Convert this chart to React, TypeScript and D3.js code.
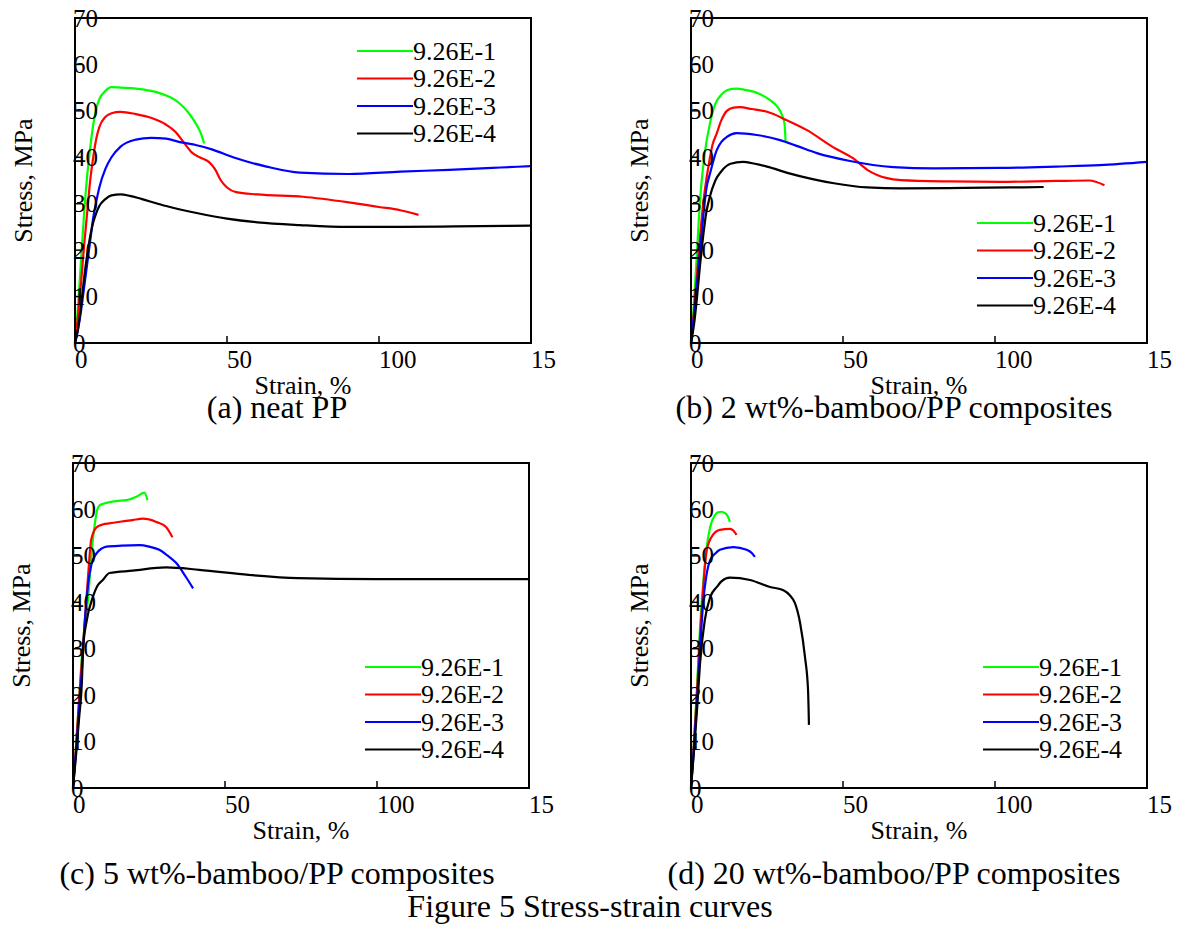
import React from "react";
import * as d3 from "d3";

// ---------- data ----------
const seriesNames = ["9.26E-1", "9.26E-2", "9.26E-3", "9.26E-4"];
const seriesColors = ["#00ff00", "#ff0000", "#0000ff", "#000000"];
const xTicks = [0, 50, 100, 150];
const xTickLabels = ["0", "50", "100", "15"];
const yTicks = [0, 10, 20, 30, 40, 50, 60, 70];
const captions = [
  "(a)  neat PP",
  "(b) 2 wt%-bamboo/PP composites",
  "(c) 5 wt%-bamboo/PP composites",
  "(d) 20 wt%-bamboo/PP composites",
];
const figureTitle = "Figure 5 Stress-strain curves";
const xTitle = "Strain, %";
const yTitle = "Stress, MPa";

// (a) neat PP  [strain %, stress MPa]
const neat1 = [[0,0],[1,8],[2,18],[3,28],[4,36],[5,42],[6,47],[7,50.5],[8,52.5],[10,54.3],[12,55.1],[15,55],[20,54.8],[25,54.3],[30,53.3],[33,52.3],[36,50.6],[38,49],[40,47],[41.5,45],[42.5,43]];
const neat2 = [[0,0],[1,6],[2,13],[3,21],[4,28],[5,35],[6,40],[7,44],[8,46.5],[10,48.7],[12,49.5],[15,49.8],[20,49.3],[25,48.5],[30,47],[33,45.5],[36,43],[38.5,41],[41,40],[44,39],[46,37.5],[48,35],[50,33.5],[53,32.5],[60,32],[75,31.5],[90,30.3],[100,29.3],[107,28.6],[113,27.6]];
const neat3 = [[0,0],[1,3],[2,7],[3,12],[4,17],[5,22],[6,27],[7,30.5],[8,33.5],[10,37.5],[12,40],[15,42.3],[20,43.8],[25,44.2],[30,44],[35,43.2],[40,42.6],[45,41.7],[52,40],[63,38],[74,36.7],[90,36.4],[107,36.9],[123,37.3],[140,37.8],[150,38.1]];
const neat4 = [[0,0],[1,3],[2,8],[3,14],[4,19],[5,23],[6,26],[7,28],[8,29.5],[10,31],[12,31.8],[15,32],[18,31.7],[22,31],[30,29.5],[40,28],[50,26.8],[60,26],[74,25.4],[90,25],[107,25],[125,25.1],[150,25.3]];

// (b) 2 wt%
const wt2_1 = [[0,0],[1,9],[2,20],[3,31],[4,38],[5,43],[6,46.5],[7,49.5],[8,51.5],[10,53.5],[12,54.5],[15,54.8],[18,54.5],[22,53.8],[26,52.3],[28.5,50.8],[30,49],[30.8,47],[31.1,43.5]];
const wt2_2 = [[0,0],[1,7],[2,15],[3,23],[4,30],[5,35],[6,39],[7,42.5],[8.5,45.2],[10,48],[11.8,50],[14,50.7],[16,50.8],[20,50.4],[25,49.8],[31.5,48],[38,45.9],[46.7,42.2],[53.3,39.8],[58,37.3],[64.5,35.5],[69,35.1],[85,34.8],[101.6,34.7],[120,34.9],[131,35],[136,34]];
const wt2_3 = [[0,0],[1,6],[2,13],[3,20],[4,27],[5,33],[6.3,36.6],[8.5,41.6],[10,43.3],[11.8,44.4],[15,45.2],[21.6,44.8],[29.3,43.7],[35,42.4],[41.4,40.9],[52.3,39.2],[66.5,37.9],[80,37.6],[101.6,37.7],[120,38],[134.5,38.3],[150,39]];
const wt2_4 = [[0,0],[1,4],[2,10],[3,17],[4,23],[5,28],[6,31],[8,35],[10,37],[13,38.6],[17,39],[21,38.6],[25,38],[32,36.6],[40,35.3],[47,34.4],[58,33.5],[69,33.3],[90,33.4],[105,33.5],[116,33.6]];

// (c) 5 wt%
const wt5_1 = [[0,0],[1,9],[2,19],[3,29],[4,36],[5,41],[6,50],[7,56],[8,60],[9,61],[11,61.4],[14,61.8],[17.6,62],[21,62.8],[23.5,63.6],[24.5,62]];
const wt5_2 = [[0,0],[1,9],[2,19],[3,28],[4,37],[5,46],[6,53.5],[7.8,56.2],[10,56.8],[12,57],[16,57.4],[19.6,57.7],[23,58],[27.4,57.3],[30.6,56.2],[32.7,54]];
const wt5_3 = [[0,0],[1,8],[2,17],[3,26],[4,37],[5,44],[6,48],[7.8,50.6],[9.5,51.6],[11,52],[16,52.2],[21.9,52.3],[25,52],[28.4,51.3],[31,50.1],[33.9,48.5],[37.1,45.5],[39.5,43]];
const wt5_4 = [[0,0],[1,7],[2,15],[3,24],[3.3,30],[4.5,36],[6.5,41.1],[8,43.5],[9.8,44.8],[12,46.3],[19.6,46.8],[30.6,47.5],[41.5,47],[57.8,45.9],[74,45.2],[100,45],[125,45],[150,45]];

// (d) 20 wt%
const wt20_1 = [[0,0],[1,10],[2,22],[3,35],[4,44],[5,51],[6.3,56.2],[7.9,58.8],[8.9,59.4],[10,59.5],[11.2,59.2],[12.2,58.4],[12.8,57.3]];
const wt20_2 = [[0,0],[1,10],[2,21],[3,33],[4,43],[5.2,51.3],[7.2,54.5],[9.5,55.6],[12.8,55.8],[14,55.4],[15,54.5]];
const wt20_3 = [[0,0],[1,9],[2,19],[3,30],[4,40],[5,45.5],[6.3,49.1],[8,50.5],[9.5,51.3],[13.9,51.9],[18.3,51.3],[20,50.6],[21,49.8]];
const wt20_4 = [[0,0],[1,8],[2,17],[3,27],[4.5,36],[6.3,41.1],[8.5,43.3],[10,44.5],[12.8,45.3],[19.4,44.8],[26,43.3],[30.4,42.6],[32.5,41.5],[34.2,39.8],[35.9,35.5],[37.5,28.2],[38.5,21.1],[38.8,13.6]];

const panelSeries = [
  [neat1, neat2, neat3, neat4],
  [wt2_1, wt2_2, wt2_3, wt2_4],
  [wt5_1, wt5_2, wt5_3, wt5_4],
  [wt20_1, wt20_2, wt20_3, wt20_4],
];

// ---------- layout ----------
const panels = [
  { left: 75, top: 18, legendDx: 282, legendDy: 33, capX: 277, capY: 418 },
  { left: 691, top: 18, legendDx: 286, legendDy: 205, capX: 894, capY: 418 },
  { left: 73, top: 463, legendDx: 292, legendDy: 204, capX: 277, capY: 884 },
  { left: 691, top: 463, legendDx: 292, legendDy: 204, capX: 894, capY: 884 },
];
const PW = 456;
const PH = 325;
const FONT = "'Liberation Serif', 'Times New Roman', Times, serif";

function Panel({ idx }: { idx: number }) {
  const p = panels[idx];
  const series = panelSeries[idx];
  const x = d3.scaleLinear().domain([0, 150]).range([p.left, p.left + PW]);
  const y = d3.scaleLinear().domain([0, 70]).range([p.top + PH, p.top]);
  const line = d3
    .line<number[]>()
    .x((d) => x(d[0]))
    .y((d) => y(d[1]))
    .curve(d3.curveMonotoneX);
  const bottom = p.top + PH;
  return (
    <g>
      <defs>
        <clipPath id={`clip${idx}`}>
          <rect x={p.left} y={p.top - 2} width={PW} height={PH + 2} />
        </clipPath>
      </defs>
      <g clipPath={`url(#clip${idx})`}>
        {series.map((s, i) => (
          <path
            key={i}
            d={line(s) || ""}
            fill="none"
            stroke={seriesColors[i]}
            strokeWidth={2.2}
            strokeLinejoin="round"
          />
        ))}
      </g>
      <rect x={p.left} y={p.top} width={PW} height={PH} fill="none" stroke="#000" strokeWidth={2} />
      {yTicks.map((t) => (
        <g key={`y${t}`}>
          <line x1={p.left} x2={p.left + 7} y1={y(t)} y2={y(t)} stroke="#000" strokeWidth={1.5} />
          <text x={p.left - 2} y={y(t)} dy="0.34em" fontSize={25} fontFamily={FONT} fill="#000">
            {t}
          </text>
        </g>
      ))}
      {xTicks.map((t, i) => (
        <g key={`x${t}`}>
          <line x1={x(t)} x2={x(t)} y1={bottom} y2={bottom - 7} stroke="#000" strokeWidth={1.5} />
          <text x={x(t)} y={bottom + 25} fontSize={25} fontFamily={FONT} fill="#000">
            {xTickLabels[i]}
          </text>
        </g>
      ))}
      <text x={p.left + PW / 2} y={bottom + 51} textAnchor="middle" fontSize={26} fontFamily={FONT} fill="#000">
        {xTitle}
      </text>
      <text
        transform={`translate(${p.left - 43},${p.top + PH / 2}) rotate(-90)`}
        textAnchor="middle"
        fontSize={26}
        fontFamily={FONT}
        fill="#000"
      >
        {yTitle}
      </text>
      {seriesNames.map((n, i) => {
        const ly = p.top + p.legendDy + i * 27.5;
        const lx = p.left + p.legendDx;
        return (
          <g key={n}>
            <line x1={lx} x2={lx + 56} y1={ly} y2={ly} stroke={seriesColors[i]} strokeWidth={2} />
            <text x={lx + 56} y={ly} dy="0.34em" fontSize={26} fontFamily={FONT} fill="#000">
              {n}
            </text>
          </g>
        );
      })}
      <text x={p.capX} y={p.capY} textAnchor="middle" fontSize={32} fontFamily={FONT} fill="#000">
        {captions[idx]}
      </text>
    </g>
  );
}

export default function App() {
  return (
    <svg width={1183} height={926} style={{ position: "absolute", left: 0, top: 0, background: "#fff" }}>
      <rect x={0} y={0} width={1183} height={926} fill="#fff" />
      {panels.map((_, i) => (
        <Panel key={i} idx={i} />
      ))}
      <text x={590} y={917} textAnchor="middle" fontSize={32} fontFamily={FONT} fill="#000">
        {figureTitle}
      </text>
    </svg>
  );
}
